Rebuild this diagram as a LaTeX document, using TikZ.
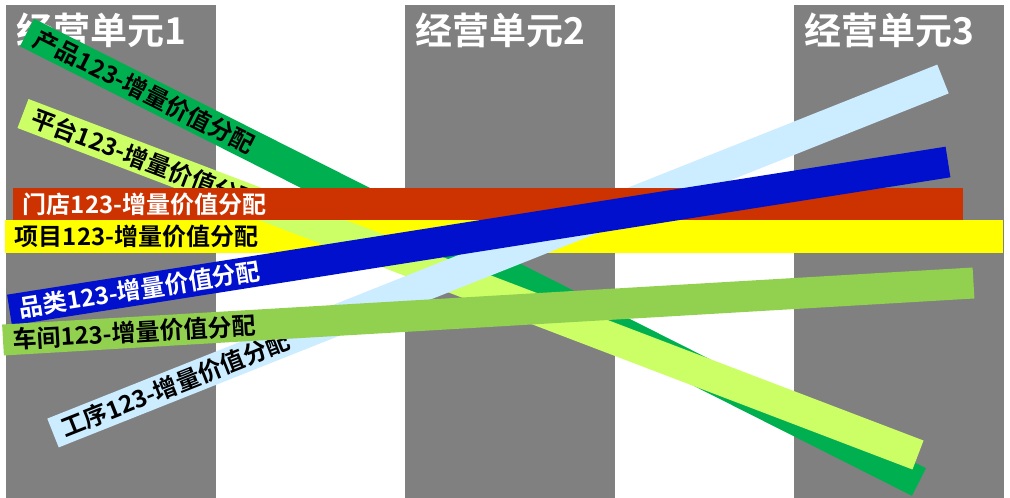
\documentclass[tikz,border=0pt]{standalone}
\usepackage{fontspec}
\newfontfamily\cjk{Noto Sans CJK SC}[BoldFont={Noto Sans CJK SC Bold}]
\definecolor{unitgray}{HTML}{808080}
\definecolor{chanpin}{HTML}{00B050}
\definecolor{pingtai}{HTML}{CCFF66}
\definecolor{mendian}{HTML}{CC3300}
\definecolor{xiangmu}{HTML}{FFFF00}
\definecolor{pinlei}{HTML}{0010CC}
\definecolor{chejian}{HTML}{92D050}
\definecolor{gongxu}{HTML}{CCECFF}

\begin{document}
\begin{tikzpicture}[x=1pt,y=-1pt,
        unit/.style={fill=unitgray},
        unittitle/.style={anchor=west,inner sep=0pt,text=white,
          font=\cjk\bfseries\fontsize{37}{37}\selectfont},
        band/.style={line width=31pt},
        bandlabel/.style={pos=0,sloped,anchor=west,inner xsep=10pt,outer sep=0pt,
          font=\cjk\bfseries\fontsize{24}{24}\selectfont}]
        \useasboundingbox (0,0) rectangle (1010,498) ;
        % operating units
        \foreach \i/\x in {1/6,2/405,3/794} {
          \fill[unit] (\x,5) rectangle ++(210,493) ;
          \node[unittitle] (title\i) at (\x+10,30) {经营单元\i} ;
        }
        % band end points
        \coordinate (cp-s) at (27,32.5) ;   \coordinate (cp-e) at (919,482) ;
        \coordinate (xm-s) at (5,236.5) ;   \coordinate (xm-e) at (1003,236.5) ;
        \coordinate (pt-s) at (23,113.5) ;  \coordinate (pt-e) at (918,455) ;
        \coordinate (gx-s) at (53,433) ;    \coordinate (gx-e) at (943,79) ;
        \coordinate (md-s) at (13,204) ;    \coordinate (md-e) at (963,204) ;
        \coordinate (pl-s) at (9.5,310) ;   \coordinate (pl-e) at (948,162) ;
        \coordinate (cj-s) at (3,340) ;     \coordinate (cj-e) at (973.5,283) ;
        % bands, bottom to top
        \draw[band,chanpin] (cp-s) -- (cp-e)
        node[bandlabel,text=black] (cp) {产品123-增量价值分配} ;
        \draw[band,xiangmu,line width=33pt] (xm-s) -- (xm-e)
        node[bandlabel,text=black] (xm) {项目123-增量价值分配} ;
        \draw[band,pingtai] (pt-s) -- (pt-e)
        node[bandlabel,text=black] (pt) {平台123-增量价值分配} ;
        \draw[band,gongxu] (gx-s) -- (gx-e)
        node[bandlabel,text=black] (gx) {工序123-增量价值分配} ;
        \draw[band,mendian,line width=32pt] (md-s) -- (md-e)
        node[bandlabel,text=white] (md) {门店123-增量价值分配} ;
        \draw[band,pinlei] (pl-s) -- (pl-e)
        node[bandlabel,text=white] (pl) {品类123-增量价值分配} ;
        \draw[band,chejian] (cj-s) -- (cj-e)
        node[bandlabel,text=black] (cj) {车间123-增量价值分配} ;
\end{tikzpicture}
\end{document}
